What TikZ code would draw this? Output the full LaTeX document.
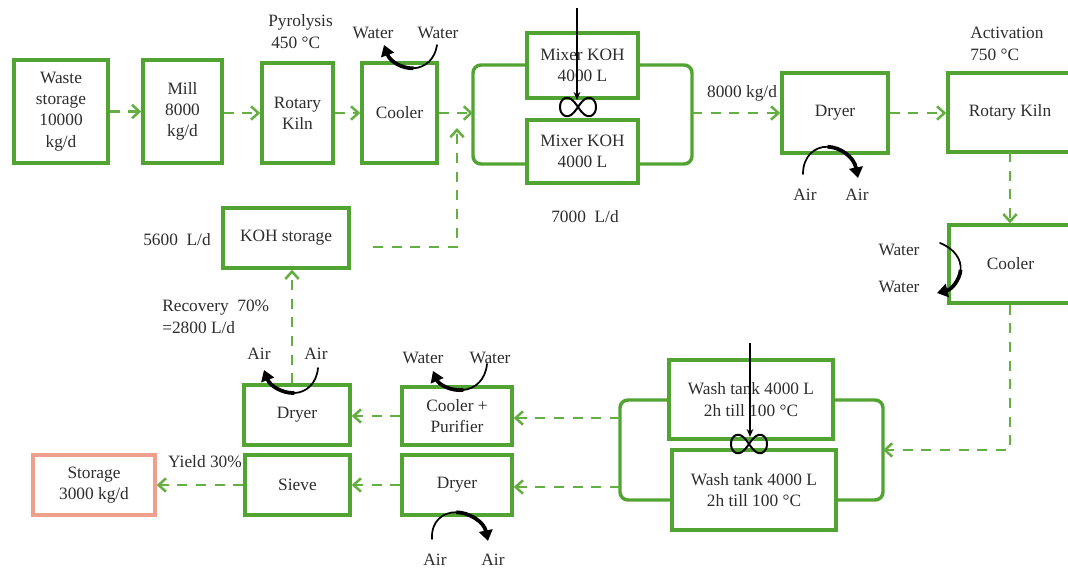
\documentclass[tikz,border=0pt]{standalone}
\usepackage{fontspec}
\setmainfont{Liberation Serif}
\usetikzlibrary{arrows.meta,calc}
\definecolor{gbox}{RGB}{82,164,50}
\definecolor{garr}{RGB}{100,174,66}
\definecolor{salmon}{RGB}{238,160,140}
\definecolor{txt}{RGB}{45,45,45}
\newcommand\curvarrow[4]{%
  \coordinate (cA) at ($(#1)!.5!(#2)$);
  \coordinate (cB) at ($(#2)!.5!(#3)$);
  \coordinate (cC) at ($(#3)!.5!(#4)$);
  \coordinate (cD) at ($(cA)!.5!(cB)$);
  \coordinate (cE) at ($(cB)!.5!(cC)$);
  \coordinate (cM) at ($(cD)!.5!(cE)$);
  \draw[curvthin] (#1) .. controls (cA) and (cD) .. (cM);
  \draw[curv] (cM) .. controls (cE) and (cC) .. (#4);}
\begin{document}
\begin{tikzpicture}[x=0.75pt,y=-0.75pt,
  font=\fontsize{13}{16}\selectfont, text=txt,
  area/.style n args={4}{minimum width={(#3-#1)*0.75pt}, minimum height={(#4-#2)*0.75pt},
     at={({(#1+#3)/2},{(#2+#4)/2})}},
  box/.style={draw=gbox, line width=2.6pt, inner sep=0pt, align=center},
  sbox/.style={draw=salmon, line width=2.6pt, inner sep=0pt, align=center},
  brk/.style={draw=gbox, line width=2.6pt, rounded corners=6pt},
  flow/.style={draw=garr, line width=1.9pt, dash pattern=on 7.5pt off 6.5pt,
    -{Straight Barb[length=5.5pt,width=10pt,line width=1.9pt]}},
  lbl/.style={inner sep=0pt},
  curv/.style={draw=black, line width=2.8pt, -{Triangle[length=8pt,width=10pt]}},
  curvthin/.style={draw=black, line width=1.3pt, line cap=round},
  vin/.style={draw=black, line width=1.1pt, -{Stealth[length=6pt,width=5pt]}},
  lemn/.pic={\draw[line width=1.5pt] plot[domain=0:356,samples=90,smooth cycle]
      ({18*cos(\x)/(1+sin(\x)*sin(\x))},{26*sin(\x)*cos(\x)/(1+sin(\x)*sin(\x))});}
]
\useasboundingbox (0,0) rectangle (1068,568);

% boxes
\node[box, area={14}{60}{108}{163}] (waste) {Waste\\storage\\10000\\kg/d};
\node[box, area={143}{60}{222}{163}] (mill) {Mill\\8000\\kg/d};
\node[box, area={262}{63}{333}{163}] (kiln) {Rotary\\Kiln};
\node[box, area={362}{63}{437}{163}] (cool) {Cooler};
\node[box, area={527}{33}{638}{98}] (mixA) {Mixer KOH\\4000 L};
\node[box, area={527}{120}{638}{183}] (mixB) {Mixer KOH\\4000 L};
\node[box, area={782}{73}{888}{153}] (dry) {Dryer};
\node[box, area={948}{73}{1072}{152}] (kiln2) {Rotary Kiln};
\node[box, area={949}{225}{1072}{303}] (cool2) {Cooler};
\node[box, area={669}{360}{833}{439}] (washA) {Wash tank 4000 L\\2h till 100 °C};
\node[box, area={672}{450}{836}{530}] (washB) {Wash tank 4000 L\\2h till 100 °C};
\node[box, area={223}{208}{349}{268}] (koh) {KOH storage};
\node[box, area={244}{385}{350}{445}] (dryT) {Dryer};
\node[box, area={402}{387}{512}{445}] (coolP) {Cooler +\\Purifier};
\node[box, area={245}{455}{350}{515}] (sieve) {Sieve};
\node[box, area={402}{455}{512}{515}] (dryB) {Dryer};
\node[sbox, area={33}{455}{155}{515}] (stor) {Storage\\3000 kg/d};

% brackets
\draw[brk] (mixA.west |- 0,65) -- (473,65) -- (473,164) -- (mixB.west |- 0,164);
\draw[brk] (mixA.east |- 0,65) -- (692,65) -- (692,164) -- (mixB.east |- 0,164);
\draw[brk] (washA.west |- 0,400) -- (620,400) -- (620,500) -- (washB.west |- 0,500);
\draw[brk] (washA.east |- 0,400) -- (883,400) -- (883,500) -- (washB.east |- 0,500);

% connector points
\coordinate (mxL) at (473,113);
\coordinate (mxR) at (692,113);
\coordinate (kohout) at (373,247);
\coordinate (kohup) at (457,128);
\coordinate (k2s) at (1010,152);
\coordinate (wsR) at (883,450);
\coordinate (wsL1) at (620,418);
\coordinate (wsL2) at (620,487);
\coordinate (kx) at (292,0);

% flow arrows
\draw[flow] (waste.east) -- (waste.east -| mill.west);
\draw[flow] (mill.east |- kiln.east) -- (kiln.west);
\draw[flow] (kiln.east) -- (cool.west);
\draw[flow] (cool.east) -- (mxL);
\draw[flow] (kohout) -| (kohup);
\draw[flow] (mxR) -- (dry.west |- mxR);
\draw[flow] (dry.east) -- (dry.east -| kiln2.west);
\draw[flow] (k2s) -- (k2s |- cool2.north);
\draw[flow] (k2s |- cool2.south) |- (wsR);
\draw[flow] (wsL1) -- (coolP.east |- wsL1);
\draw[flow] (wsL2) -- (dryB.east |- wsL2);
\draw[flow] (coolP.west) -- (coolP.west -| dryT.east);
\draw[flow] (dryB.west) -- (dryB.west -| sieve.east);
\draw[flow] (sieve.west) -- (sieve.west -| stor.east);
\draw[flow] (kx |- dryT.north) -- (kx |- koh.south);

% stirrers
\pic at (578,107) {lemn};
\coordinate (mtop) at (577,8);
\coordinate (minf) at (577,100);
\draw[vin] (mtop) -- (minf);
\pic at (749,444) {lemn};
\coordinate (wtop) at (750,343);
\coordinate (winf) at (750,437);
\draw[vin] (wtop) -- (winf);

% curved utility arrows
\curvarrow{437,45}{433,74}{396,78}{384,45}
\curvarrow{803,174}{803,138}{850,136}{858,178}
\curvarrow{940,243}{970,255}{966,286}{937,293}
\curvarrow{318,368}{315,400}{276,402}{264,370}
\curvarrow{487,364}{484,396}{445,399}{433,371}
\curvarrow{432,539}{430,503}{480,503}{488,541}

% labels
\node[lbl, anchor=west] (pyro) at (268,22) {Pyrolysis};
\node[lbl, anchor=west] (pyroT) at (271,43) {450 °C};
\node[lbl] (w1) at (373,33) {Water};
\node[lbl] (w2) at (438,33) {Water};
\node[lbl] (f8) at (742,93) {8000 kg/d};
\node[lbl] (f7) at (585,217) {7000\ \ L/d};
\node[lbl, anchor=west] (act) at (970,33) {Activation};
\node[lbl, anchor=west] (actT) at (970,55) {750 °C};
\node[lbl] (a1) at (805,195) {Air};
\node[lbl] (a2) at (857,195) {Air};
\node[lbl] (w3) at (899,250) {Water};
\node[lbl] (w4) at (899,287) {Water};
\node[lbl] (f56) at (177,240) {5600\ \ L/d};
\node[lbl, anchor=west] (rec) at (162,308) {Recovery\ \ 70\%};
\node[lbl, anchor=west] (recT) at (162,328) {=2800 L/d};
\node[lbl] (a3) at (259,354) {Air};
\node[lbl] (a4) at (316,354) {Air};
\node[lbl] (w5) at (423,358) {Water};
\node[lbl] (w6) at (490,358) {Water};
\node[lbl] (a5) at (435,560) {Air};
\node[lbl] (a6) at (493,560) {Air};
\node[lbl] (yld) at (205,462) {Yield 30\%};
\end{tikzpicture}
\end{document}
